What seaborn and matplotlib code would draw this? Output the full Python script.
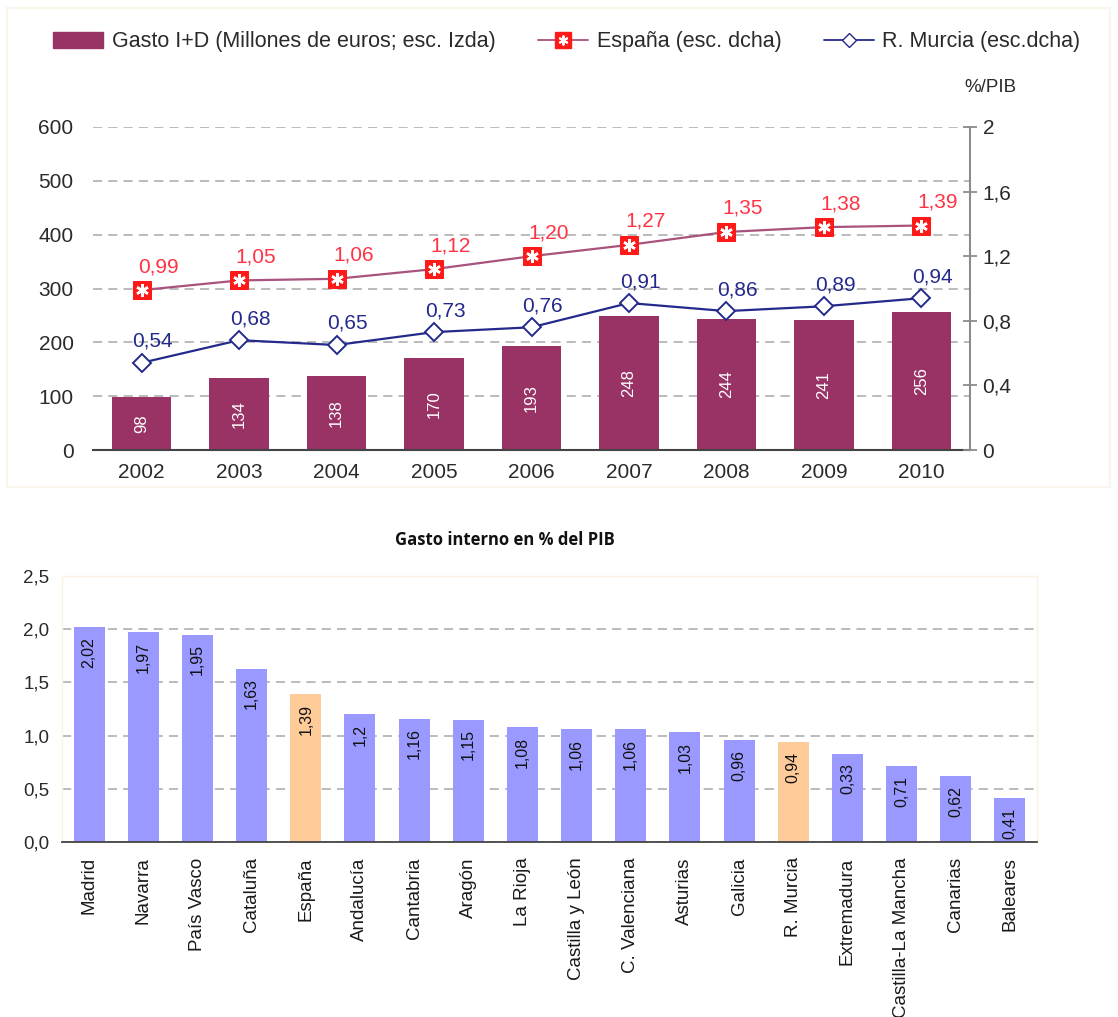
import numpy as np
import pandas as pd
import matplotlib
matplotlib.use("Agg")
import matplotlib.pyplot as plt
import seaborn as sns
from matplotlib.lines import Line2D
from matplotlib.patches import Patch, Rectangle

# ---------------- data ----------------
years = ["2002", "2003", "2004", "2005", "2006", "2007", "2008", "2009", "2010"]
gasto_id = [98, 134, 138, 170, 193, 248, 244, 241, 256]
espana_pib = [0.99, 1.05, 1.06, 1.12, 1.20, 1.27, 1.35, 1.38, 1.39]
murcia_pib = [0.54, 0.68, 0.65, 0.73, 0.76, 0.91, 0.86, 0.89, 0.94]

left_ticks = [0, 100, 200, 300, 400, 500, 600]
right_ticks = [0, 0.4, 0.8, 1.2, 1.6, 2.0]
right_tick_labels = ["0", "0,4", "0,8", "1,2", "1,6", "2"]

regiones = ["Madrid", "Navarra", "País Vasco", "Cataluña", "España", "Andalucía",
            "Cantabria", "Aragón", "La Rioja", "Castilla y León", "C. Valenciana",
            "Asturias", "Galicia", "R. Murcia", "Extremadura", "Castilla-La Mancha",
            "Canarias", "Baleares"]
gasto_pib = [2.02, 1.97, 1.95, 1.63, 1.39, 1.20, 1.16, 1.15, 1.08, 1.06, 1.06,
             1.03, 0.96, 0.94, 0.83, 0.71, 0.62, 0.41]
etiquetas = ["2,02", "1,97", "1,95", "1,63", "1,39", "1,2", "1,16", "1,15", "1,08",
             "1,06", "1,06", "1,03", "0,96", "0,94", "0,33", "0,71", "0,62", "0,41"]
destacadas = ["España", "R. Murcia"]
bottom_ticks = [0, 0.5, 1.0, 1.5, 2.0, 2.5]
bottom_tick_labels = ["0,0", "0,5", "1,0", "1,5", "2,0", "2,5"]

# ---------------- style ----------------
C_BAR = "#993366"
C_ESP_LINE = "#a8527e"
C_ESP_MARK = "#ff1a1a"
C_ESP_TXT = "#ff3344"
C_MUR = "#242a8c"
C_BLUE = "#9999ff"
C_ORANGE = "#ffcc99"
C_GRID = "#a8a8a8"
C_TXT = "#2a2a2a"

sns.set_theme(style="white")
plt.rcParams['font.family'] = ['Liberation Sans', 'DejaVu Sans']

fig = plt.figure(figsize=(11.18, 10.17), dpi=100)

# faint frame around the top chart
fig.patches.append(Rectangle((7 / 1118, 1 - 487 / 1017), 1103 / 1118, 479 / 1017,
                             transform=fig.transFigure, fill=False,
                             edgecolor="#faf4ea", lw=1.5))

# ---------------- top chart ----------------
ax1 = fig.add_axes([93 / 1118, 1 - 450 / 1017, 877 / 1118, 323 / 1017])
df1 = pd.DataFrame({"year": years, "gasto": gasto_id})
sns.barplot(data=df1, x="year", y="gasto", color=C_BAR, saturation=1,
            width=0.61, linewidth=0, ax=ax1)
ax1.set_ylim(0, 600)
ax1.set_xlim(-0.5, len(years) - 0.5)
ax1.set_yticks(left_ticks)
ax1.set_yticklabels([str(t) for t in left_ticks])
ax1.set_axisbelow(True)
ax1.yaxis.grid(True, linestyle=(0, (6, 4)), color=C_GRID, lw=1.1)
ax1.set_xlabel("")
ax1.set_ylabel("")
for s in ["left", "top", "right"]:
    ax1.spines[s].set_visible(False)
ax1.spines["bottom"].set_color("#444444")
ax1.spines["bottom"].set_linewidth(1.5)
ax1.tick_params(axis="y", length=0, labelsize=15, labelcolor=C_TXT, pad=14)
ax1.tick_params(axis="x", which="major", length=0, labelsize=15, labelcolor=C_TXT, pad=9)
ax1.set_xticks(np.arange(-0.5, len(years), 1.0), minor=True)
ax1.tick_params(axis="x", which="minor", length=6, width=1.5, color="#444444", direction="out")

for i, v in enumerate(gasto_id):
    ax1.text(i, v / 2, str(v), rotation=90, ha="center", va="center",
             color="white", fontsize=12)

ax2 = ax1.twinx()
pos = np.arange(len(years))
sns.lineplot(x=pos, y=espana_pib, ax=ax2, color=C_ESP_LINE, lw=1.6,
             marker="s", markersize=13, markerfacecolor=C_ESP_MARK,
             markeredgecolor=C_ESP_MARK, zorder=3)
ax2.plot(pos, espana_pib, ls="none", marker=(6, 2, 0), color="white",
         markersize=9, mew=1.8, zorder=4)
sns.lineplot(x=pos, y=murcia_pib, ax=ax2, color=C_MUR, lw=1.6,
             marker="D", markersize=9, markerfacecolor="white",
             markeredgecolor=C_MUR, markeredgewidth=1.4, zorder=3)
ax2.set_ylim(0, 2)
ax2.set_xlim(-0.5, len(years) - 0.5)
ax2.set_yticks(right_ticks)
ax2.set_yticklabels(right_tick_labels)
ax2.set_ylabel("")
for s in ["left", "top", "bottom"]:
    ax2.spines[s].set_visible(False)
ax2.spines["right"].set_color("#8c8c8c")
ax2.spines["right"].set_linewidth(1.5)
ax2.tick_params(axis="y", direction="inout", length=10, width=1.3, color="#8c8c8c",
                labelsize=15, labelcolor=C_TXT, pad=4)

for i, v in enumerate(espana_pib):
    ax2.annotate(f"{v:.2f}".replace(".", ","), (i, v), xytext=(12, 17),
                 textcoords="offset points", ha="center", va="center",
                 color=C_ESP_TXT, fontsize=15)
for i, v in enumerate(murcia_pib):
    ax2.annotate(f"{v:.2f}".replace(".", ","), (i, v), xytext=(8, 15.5),
                 textcoords="offset points", ha="center", va="center",
                 color=C_MUR, fontsize=15)

fig.text(990 / 1118, 1 - 88 / 1017, "%/PIB", ha="center", va="center",
         color=C_TXT, fontsize=13.5)

handles = [
    Patch(facecolor=C_BAR, edgecolor=C_BAR),
    (Line2D([], [], color=C_ESP_LINE, lw=1.3, marker="s", markersize=11,
            markerfacecolor=C_ESP_MARK, markeredgecolor=C_ESP_MARK),
     Line2D([], [], ls="none", marker=(6, 2, 0), color="white", markersize=7, mew=1.4)),
    Line2D([], [], color=C_MUR, lw=1.3, marker="D", markersize=7,
           markerfacecolor="white", markeredgecolor=C_MUR),
]
labels = ["Gasto I+D (Millones de euros; esc. Izda)", "España (esc. dcha)",
          "R. Murcia (esc.dcha)"]
fig.legend(handles, labels, loc="center", bbox_to_anchor=(567 / 1118, 1 - 42 / 1017),
           ncol=3, frameon=False, fontsize=15.5, handlelength=2.3,
           handleheight=0.8, columnspacing=2.0, handletextpad=0.4,
           labelcolor=C_TXT)

# ---------------- bottom chart ----------------
ax3 = fig.add_axes([62 / 1118, 1 - 842 / 1017, 975 / 1118, 266 / 1017])
df2 = pd.DataFrame({"region": regiones, "valor": gasto_pib,
                    "grupo": ["dest" if r in destacadas else "norm" for r in regiones]})
sns.barplot(data=df2, x="region", y="valor", hue="grupo",
            palette={"norm": C_BLUE, "dest": C_ORANGE}, saturation=1,
            width=0.57, linewidth=0, dodge=False, legend=False, ax=ax3)
ax3.set_ylim(0, 2.5)
ax3.set_xlim(-0.5, len(regiones) - 0.5)
ax3.set_yticks(bottom_ticks)
ax3.set_yticklabels(bottom_tick_labels)
ax3.set_axisbelow(True)
ax3.yaxis.grid(True, linestyle=(0, (6, 4)), color=C_GRID, lw=1.1)
ax3.set_xlabel("")
ax3.set_ylabel("")
for s in ["left", "top", "right"]:
    ax3.spines[s].set_color("#fcf2e4")
    ax3.spines[s].set_linewidth(1.0)
ax3.spines["bottom"].set_color("#444444")
ax3.spines["bottom"].set_linewidth(1.3)
ax3.tick_params(axis="y", length=0, labelsize=13.5, labelcolor=C_TXT, pad=9)
ax3.set_xticks(np.arange(len(regiones)))
ax3.set_xticklabels(regiones, rotation=90, fontsize=13.5, color="#1a1a1a")
ax3.tick_params(axis="x", which="major", length=0, pad=11)
ax3.set_xticks(np.arange(-0.5, len(regiones), 1.0), minor=True)
ax3.tick_params(axis="x", which="minor", length=6, width=1.3, color="#444444", direction="out")

for i, (v, t) in enumerate(zip(gasto_pib, etiquetas)):
    ax3.annotate(t, (i, v), xytext=(0, -7), textcoords="offset points",
                 rotation=90, ha="center", va="top", color="#111111", fontsize=11.5)

fig.text(505 / 1118, 1 - 540 / 1017, "Gasto interno en % del PIB", ha="center",
         va="center", fontsize=12, fontweight="bold",
         family=["Open Sans", "DejaVu Sans"], color="#111111")

fig.savefig("out.png", dpi=100, facecolor="white")
